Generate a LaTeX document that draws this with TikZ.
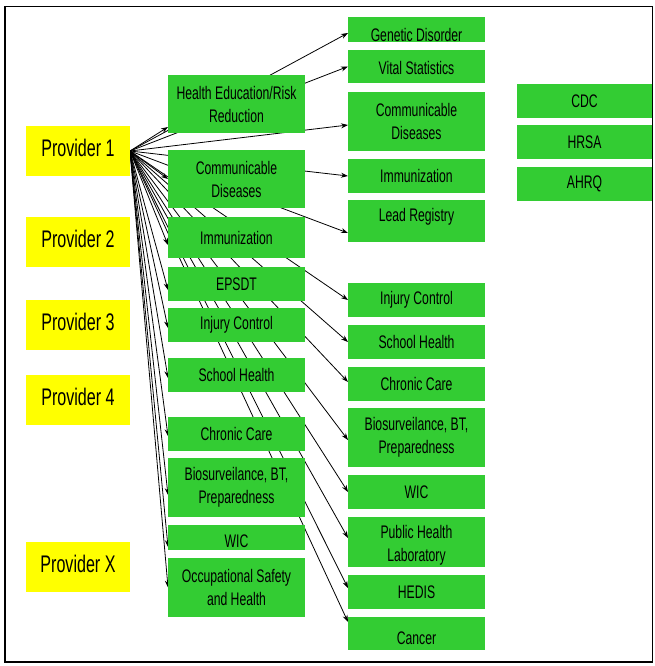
\documentclass[tikz,border=0pt]{standalone}
\usepackage{fontspec}
\setmainfont{Liberation Sans}[FakeStretch=0.67]
\usetikzlibrary{arrows.meta,backgrounds,calc}
\definecolor{boxgreen}{RGB}{51,204,51}
\definecolor{provyellow}{RGB}{255,255,0}
\tikzset{
  gbox/.style={fill=boxgreen, inner sep=0pt, outer sep=0pt},
  ybox/.style={fill=provyellow, inner sep=0pt, outer sep=0pt},
  plbl/.style={font=\fontsize{24}{28}\selectfont, inner sep=0pt},
  lbl/.style={font=\fontsize{18.2}{23}\selectfont, align=center, inner sep=0pt},
  arr/.style={-{Stealth[length=7pt,width=5pt]}, line width=0.8pt},
}
\newcommand\gbx[7]{%
  \node[gbox, minimum width={(#4-#2)*1pt}, minimum height={(#5-#3)*1pt}] (#1) at ({(#2+#4)/2},{(#3+#5)/2}) {};
  \node[lbl] (#1-t) at ([yshift={-(#7)*1pt}]#1.center) {#6};
}
\newcommand\ybx[3]{%
  \node[ybox, minimum width=104pt, minimum height=50pt] (#1) at (78,{#2+25}) {};
  \node[plbl] (#1-t) at ([yshift=3.5pt]#1.center) {#3};
}
\begin{document}
\begin{tikzpicture}[x=1pt,y=-1pt]
\useasboundingbox (0,0) rectangle (655,666);
% providers
\ybx{p1}{126}{Provider 1}
\ybx{p2}{217}{Provider 2}
\ybx{p3}{300}{Provider 3}
\ybx{p4}{375}{Provider 4}
\ybx{px}{542}{Provider X}
% middle column
\gbx{hed}{168}{75}{305}{133}{Health Education/Risk\\Reduction}{0}
\gbx{mcd}{168}{150}{305}{208}{Communicable\\Diseases}{0}
\gbx{mimm}{168}{217}{305}{258}{Immunization}{0}
\gbx{eps}{168}{267}{305}{301}{EPSDT}{0}
\gbx{minj}{168}{308}{305}{342}{Injury Control}{0}
\gbx{msch}{168}{358}{305}{392}{School Health}{0}
\gbx{mchr}{168}{417}{305}{451}{Chronic Care}{0}
\gbx{mbio}{168}{458}{305}{517}{Biosurveilance, BT,\\Preparedness}{0}
\gbx{mwic}{168}{525}{305}{550}{WIC}{4}
\gbx{occ}{168}{558}{305}{617}{Occupational Safety\\and Health}{0}
% right column
\gbx{gen}{348}{17}{485}{42}{Genetic Disorder}{5}
\gbx{vit}{348}{50}{485}{83}{Vital Statistics}{1}
\gbx{rcd}{348}{92}{485}{151}{Communicable\\Diseases}{0}
\gbx{rimm}{348}{159}{485}{193}{Immunization}{0}
\gbx{lead}{348}{200}{485}{242}{Lead Registry}{-4}
\gbx{rinj}{348}{283}{485}{317}{Injury Control}{0}
\gbx{rsch}{348}{325}{485}{359}{School Health}{0}
\gbx{rchr}{348}{367}{485}{401}{Chronic Care}{0}
\gbx{rbio}{348}{408}{485}{467}{Biosurveilance, BT,\\Preparedness}{0}
\gbx{rwic}{348}{475}{485}{509}{WIC}{0}
\gbx{rphl}{348}{517}{485}{567}{Public Health\\Laboratory}{3}
\gbx{hedis}{348}{575}{485}{609}{HEDIS}{0}
\gbx{canc}{348}{617}{485}{650}{Cancer}{5}
% agencies
\gbx{cdc}{517}{84}{652}{118}{CDC}{0}
\gbx{hrsa}{517}{125}{652}{159}{HRSA}{0}
\gbx{ahrq}{517}{167}{652}{201}{AHRQ}{0}
% connectors
\begin{scope}[on background layer]
\fill[white] (0,0) rectangle (655,666);
\foreach \t/\s in {hed/-23, mcd/0, mimm/-7.5, eps/-6, minj/-3, msch/-3, mchr/-2, mbio/-7.5, mwic/-9.5, occ/0,
                   gen/-3.5, vit/0, rcd/-3.5, rimm/0, lead/-12, rinj/0, rsch/0, rchr/2, rbio/-2.5, rwic/0, rphl/4, hedis/4, canc/11.5}
  \draw[arr] (p1.east) -- ([yshift=\s pt]\t.west);
\end{scope}
% frame
\draw[line width=1.5pt] (5,6.5) rectangle (652.5,662);
\end{tikzpicture}
\end{document}
